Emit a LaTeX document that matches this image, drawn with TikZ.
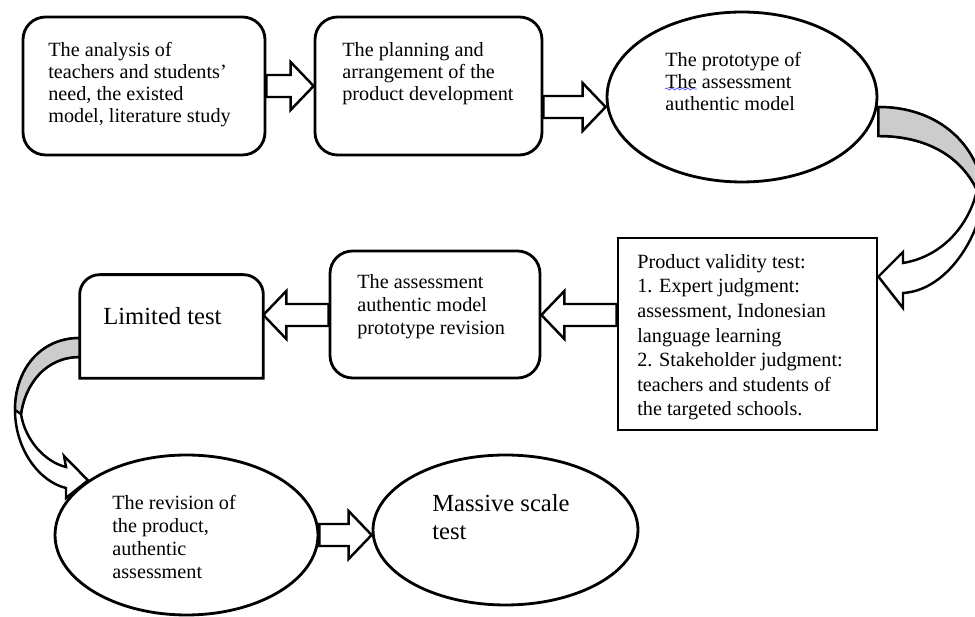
\documentclass[tikz,border=0pt]{standalone}
\usepackage{fontspec}
\setmainfont{Liberation Serif}
\usetikzlibrary{positioning, calc, shapes.geometric, decorations.pathmorphing}
\definecolor{bandgray}{RGB}{204,204,204}

% hollow block arrow: from, to, y, direction (1 = right, -1 = left)
\newcommand{\hollowarrow}[4]{%
  \draw[hollow] let \p1=(#1 |- 0,#3), \p2=(#2 |- 0,#3) in
    ($(\p1)+(0,-11)$) -- ($(\p2)+({-23*#4},-11)$) -- ($(\p2)+({-23*#4},-24)$) -- (\p2)
    -- ($(\p2)+({-23*#4},24)$) -- ($(\p2)+({-23*#4},11)$) -- ($(\p1)+(0,11)$) -- cycle;}

\begin{document}
\begin{tikzpicture}[x=0.02cm, y=-0.02cm,
    box/.style={draw, line width=1.6pt, rounded corners=0.45cm, inner sep=0pt},
    rect/.style={draw, line width=1.6pt, inner sep=0pt},
    oval/.style={draw, ellipse, line width=1.6pt, inner sep=0pt},
    txt/.style={anchor=north west, align=left, inner sep=0pt, font=\fontsize{11.5}{12.6}\selectfont},
    bigtxt/.style={txt, font=\fontsize{14}{15.9}\selectfont},
    hollow/.style={draw, line width=1.4pt, fill=white, line join=miter},
    band/.style={draw, line width=1.4pt}
]
    \useasboundingbox (0,0) rectangle (975,617);
    \clip (0,0) rectangle (975,617);

    % First row
    \node[box, minimum width=4.84cm, minimum height=2.76cm] (analysis) at (144,86) {};
    \node[txt] (analysistext) at (48,42) {The analysis of\\teachers and students’\\need, the existed\\model, literature study};

    \node[box, minimum width=4.54cm, minimum height=2.76cm] (planning) at (428.5,86) {};
    \node[txt] (planningtext) at (342,42) {The planning and\\arrangement of the\\product development};

    \node[oval, minimum width=5.4cm, minimum height=3.4cm] (prototype) at (742,97) {};
    \node[txt] (prototypetext) at (665,52) {The prototype of\\The assessment\\authentic model};
    \draw[blue!60, line width=0.5pt, decorate, decoration={snake, amplitude=0.5pt, segment length=3pt}]
        ($(prototypetext.north west)+(0,37)$) -- ++(32,0);

    % Second row
    \node[rect, minimum width=5.18cm, minimum height=3.84cm] (validity) at (747.5,334) {};
    \node[txt, font=\fontsize{11.5}{14}\selectfont] (validitytext) at (637,254) {Product validity test:\\1. Expert judgment:\\assessment, Indonesian\\language learning\\2. Stakeholder judgment:\\teachers and students of\\the targeted schools.};

    \node[box, minimum width=4.2cm, minimum height=2.54cm] (revision) at (435,314.5) {};
    \node[txt, font=\fontsize{11.5}{13}\selectfont] (revisiontext) at (357,274) {The assessment\\authentic model\\prototype revision};

    \node[minimum width=3.66cm, minimum height=2.06cm, inner sep=0pt] (limited) at (171.5,326.5) {};
    \draw[line width=1.6pt] (limited.south west) [rounded corners=0.4cm] -- (limited.north west)
        -- (limited.north east) [sharp corners] -- (limited.south east) -- cycle;
    \node[bigtxt] (limitedtext) at (103,307) {Limited test};

    % Third row
    \node[oval, minimum width=5.26cm, minimum height=3.2cm] (product) at (186.5,535) {};
    \node[txt, font=\fontsize{11.5}{13}\selectfont] (producttext) at (112,495) {The revision of\\the product,\\authentic\\assessment};

    \node[oval, minimum width=5.3cm, minimum height=3.0cm] (massive) at (505.5,530) {};
    \node[bigtxt] (massivetext) at (432,494) {Massive scale\\test};

    % Straight block arrows
    \hollowarrow{analysis.east}{planning.west}{86}{1}
    \hollowarrow{planning.east}{prototype.west}{107}{1}
    \hollowarrow{validity.west}{revision.east}{315}{-1}
    \hollowarrow{revision.west}{limited.east}{315}{-1}
    \hollowarrow{product.east}{massive.west}{535}{1}

    % Curved block arrows
    \coordinate (rstart) at ($(prototype.east)+(0,10)$);
    \coordinate (rend) at ($(validity.north east)+(0,40)$);
    \draw[band, fill=white] (rstart) .. controls (935,107) and (972,140) .. (982,182)
        .. controls (990,216) and (955,290) .. (903,293) -- (903,308) -- (rend) -- (903,252) -- (903,263)
        .. controls (945,256) and (970,222) .. (977,190)
        .. controls (960,155) and (925,136) .. ($(rstart)+(0,29)$) -- cycle;
    \draw[band, fill=bandgray] (rstart) .. controls (935,107) and (972,140) .. (982,182) -- (977,190)
        .. controls (960,155) and (925,136) .. ($(rstart)+(0,29)$) -- cycle;

    \coordinate (lstart) at ($(limited.west)+(0,11.5)$);
    \coordinate (lend) at (product.151);
    \draw[band, fill=white] (lstart) .. controls (40,338) and (15,370) .. (15,410)
        .. controls (15,450) and (40,482) .. (66,488) -- (66,498) -- (lend) -- (64,456) -- (66,467)
        .. controls (45,462) and (25,440) .. (21,414)
        .. controls (25,385) and (45,357) .. ($(lstart)+(0,19)$) -- cycle;
    \draw[band, fill=bandgray] (lstart) .. controls (40,338) and (15,370) .. (15,410) -- (21,414)
        .. controls (25,385) and (45,357) .. ($(lstart)+(0,19)$) -- cycle;
\end{tikzpicture}
\end{document}
